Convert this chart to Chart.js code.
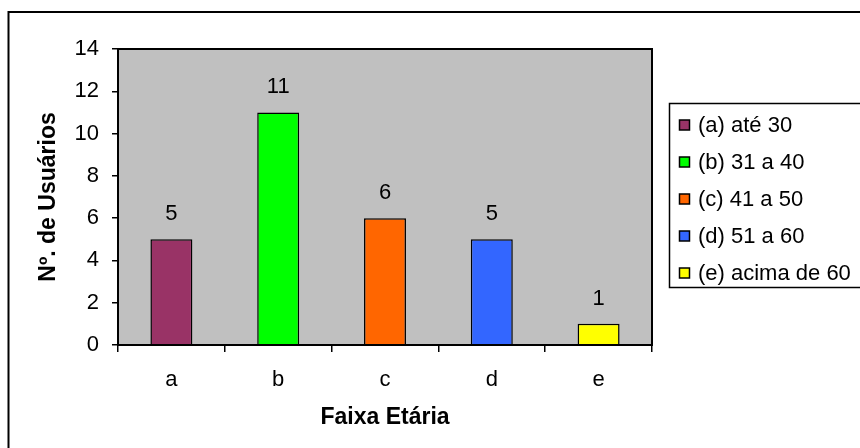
<!DOCTYPE html>
<html>
<head>
<meta charset="utf-8">
<script src="https://cdn.jsdelivr.net/npm/chart.js@4"></script>
<style>
html,body{margin:0;padding:0;background:#fff;}
#wrap{width:860px;height:448px;position:relative;}
</style>
</head>
<body>
<div id="wrap"><canvas id="c" width="860" height="448"></canvas></div>
<script>
const categories = ['a', 'b', 'c', 'd', 'e'];
const values = [5, 11, 6, 5, 1];
const seriesLabels = ['(a) até 30', '(b) 31 a 40', '(c) 41 a 50', '(d) 51 a 60', '(e) acima de 60'];
const seriesColors = ['#993366', '#00FF00', '#FF6600', '#3366FF', '#FFFF00'];
const yTicks = [0, 2, 4, 6, 8, 10, 12, 14];
const xTitle = 'Faixa Etária';
const yTitle = 'Nº. de Usuários';

const FONT = '"Liberation Sans", Arial, sans-serif';
Chart.defaults.font.family = FONT;
Chart.defaults.font.size = 22;
Chart.defaults.color = '#000';

const datasets = categories.map((cat, i) => ({
  label: seriesLabels[i],
  data: categories.map((c, j) => (j === i ? values[i] : null)),
  backgroundColor: seriesColors[i],
  borderColor: '#000',
  borderWidth: 1.5,
  barPercentage: 0.393,
  categoryPercentage: 1.0,
  grouped: false
}));

const frame = {
  id: 'frame',
  beforeDraw(chart) {
    const ctx = chart.ctx, a = chart.chartArea;
    ctx.save();
    ctx.fillStyle = '#C0C0C0';
    ctx.fillRect(a.left, a.top, a.right - a.left, a.bottom - a.top);
    ctx.strokeStyle = '#000';
    ctx.lineWidth = 2;
    ctx.strokeRect(8.5, 12, 1000, 1000);
    ctx.restore();
  },
  afterDatasetsDraw(chart) {
    const ctx = chart.ctx, a = chart.chartArea;
    ctx.save();
    ctx.strokeStyle = '#000';
    ctx.lineWidth = 2;
    ctx.strokeRect(a.left, a.top, a.right - a.left, a.bottom - a.top);
    ctx.fillStyle = '#000';
    ctx.font = '22px ' + FONT;
    ctx.textAlign = 'center';
    ctx.textBaseline = 'middle';
    chart.data.datasets.forEach((ds, i) => {
      const meta = chart.getDatasetMeta(i);
      meta.data.forEach((el, j) => {
        const v = ds.data[j];
        if (v === null || v === undefined) return;
        ctx.fillText(String(v), el.x, el.y - 25);
      });
    });
    ctx.restore();
  },
  afterDraw(chart) {
    const ctx = chart.ctx;
    ctx.save();
    ctx.strokeStyle = '#000';
    ctx.lineWidth = 1.5;
    ctx.strokeRect(669.5, 103.5, 400, 184);
    ctx.font = '22px ' + FONT;
    ctx.textAlign = 'left';
    ctx.textBaseline = 'middle';
    chart.data.datasets.forEach((ds, i) => {
      const cy = 125 + i * 37;
      ctx.fillStyle = ds.backgroundColor;
      ctx.fillRect(679.5, cy - 5, 10, 10);
      ctx.lineWidth = 1.5;
      ctx.strokeStyle = '#000';
      ctx.strokeRect(679.5, cy - 5, 10, 10);
      ctx.fillStyle = '#000';
      ctx.fillText(ds.label, 698, cy + 1);
    });
    ctx.restore();
  }
};

new Chart(document.getElementById('c'), {
  type: 'bar',
  data: { labels: categories, datasets },
  options: {
    responsive: false,
    animation: false,
    layout: { padding: { left: 25, top: 49, right: 208, bottom: 0 } },
    plugins: { legend: { display: false }, tooltip: { enabled: false } },
    scales: {
      x: {
        offset: true,
        grid: { offset: true, drawOnChartArea: false, drawTicks: true, tickLength: 7, color: '#000', lineWidth: 1.5 },
        border: { display: false },
        ticks: { padding: 15, font: { size: 22 }, color: '#000' },
        title: { display: true, text: xTitle, font: { size: 23, weight: 'bold' }, padding: { top: 0, bottom: 17 } },
        afterFit(s) { s.height = 103; s.paddingLeft = 0; s.paddingRight = 0; }
      },
      y: {
        min: 0, max: 14,
        afterBuildTicks(s) { s.ticks = yTicks.map(v => ({ value: v })); },
        grid: { drawOnChartArea: false, drawTicks: true, tickLength: 6, color: '#000', lineWidth: 1.5 },
        border: { display: false },
        ticks: { padding: 13, font: { size: 22 }, color: '#000' },
        title: { display: true, text: yTitle, font: { size: 23, weight: 'bold' }, padding: { top: 10, bottom: 0 } },
        afterFit(s) { s.width = 93; s.paddingTop = 0; s.paddingBottom = 0; }
      }
    }
  },
  plugins: [frame]
});
</script>
</body>
</html>
